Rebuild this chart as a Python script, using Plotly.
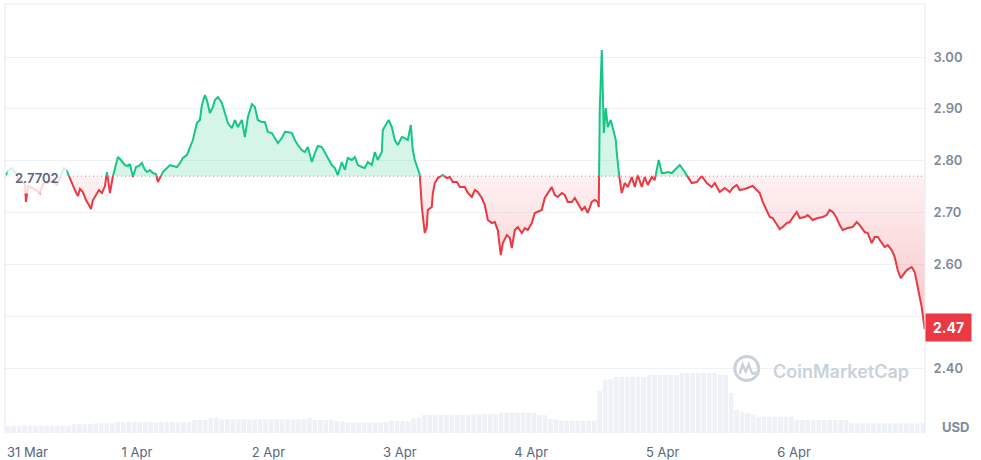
import plotly.graph_objects as go
import pandas as pd

# ---------------- data ----------------
start_date = "2025-03-31 00:00"
base_price = 2.7702

# hours since 31 Mar 00:00
hours = [0.09, 0.64, 1.19, 1.73, 2.28, 3.01, 3.56, 3.74, 4.11, 4.84, 5.57, 6.30, 6.84, 7.57, 8.49, 9.40,
         9.95, 10.31, 10.68, 11.22, 11.59, 12.14, 12.68, 13.23, 13.60, 14.14, 14.69, 15.24, 15.60, 15.97,
         16.52, 17.06, 17.61, 18.16, 18.52, 19.07, 19.62, 20.17, 20.53, 21.08, 21.81, 22.36, 22.72, 23.27,
         23.82, 24.36, 24.91, 25.46, 25.83, 26.37, 26.92, 27.47, 27.83, 28.38, 28.75, 29.48, 30.02, 30.57,
         31.30, 31.85, 32.40, 33.13, 33.67, 34.22, 34.95, 35.50, 35.86, 36.41, 36.78, 37.32, 37.87, 38.24,
         38.78, 39.51, 40.06, 40.61, 41.34, 41.89, 42.43, 43.16, 43.71, 44.26, 44.99, 45.53, 46.08, 46.81,
         47.36, 47.91, 48.64, 49.18, 49.73, 50.46, 51.01, 51.56, 52.29, 52.84, 53.38, 54.11, 54.66, 55.21,
         55.94, 56.49, 57.03, 57.76, 58.31, 58.86, 59.59, 60.14, 60.68, 61.41, 61.96, 62.51, 63.24, 63.79,
         64.33, 65.06, 65.61, 66.16, 66.89, 67.44, 67.98, 68.71, 68.90, 69.63, 69.99, 70.54, 71.09, 71.64,
         72.37, 72.91, 73.46, 74.01, 74.37, 74.74, 75.29, 75.65, 76.02, 76.56, 76.93, 77.11, 77.84, 78.03,
         78.39, 78.94, 79.85, 80.58, 81.13, 81.68, 82.41, 82.96, 83.87, 84.42, 85.15, 85.70, 86.24, 86.97,
         87.52, 88.07, 88.80, 89.35, 89.89, 90.44, 90.81, 91.54, 92.09, 92.45, 93.00, 93.55, 94.28, 94.82,
         95.37, 96.10, 96.65, 97.20, 97.93, 98.47, 99.02, 99.75, 100.30, 100.85, 101.58, 102.12, 102.67,
         103.40, 103.95, 104.50, 105.23, 105.77, 106.32, 107.05, 107.60, 108.15, 108.33, 108.51, 108.88,
         109.06, 109.25, 109.61, 109.98, 110.52, 110.89, 111.44, 111.62, 111.98, 112.53, 113.08, 113.63,
         114.36, 114.91, 115.45, 116.18, 116.73, 117.28, 118.01, 118.55, 119.28, 119.83, 120.38, 120.93,
         121.66, 122.20, 123.12, 124.03, 124.58, 125.31, 126.22, 127.13, 128.05, 128.96, 129.51, 130.42,
         131.33, 132.25, 132.79, 133.52, 134.07, 134.98, 135.90, 136.44, 137.17, 137.72, 138.27, 139.00,
         139.55, 140.09, 140.82, 141.37, 141.92, 142.65, 143.20, 143.74, 144.47, 145.02, 145.93, 146.48,
         147.39, 148.31, 149.22, 149.95, 150.50, 151.05, 151.78, 152.32, 152.87, 153.78, 154.70, 155.43,
         155.98, 156.89, 157.44, 158.17, 158.72, 159.26, 159.99, 160.54, 161.09, 161.82, 162.37, 162.91,
         163.46, 163.83, 164.56, 165.47, 166.02, 166.57, 167.30, 167.85]

price = [2.7723, 2.7820, 2.7858, 2.7781, 2.7665, 2.7608, 2.7531, 2.7203, 2.7511, 2.7473, 2.7434, 2.7376,
         2.7550, 2.7569, 2.7608, 2.7531, 2.7665, 2.7781, 2.7858, 2.7800, 2.7704, 2.7550, 2.7434, 2.7318,
         2.7453, 2.7395, 2.7241, 2.7145, 2.7067, 2.7241, 2.7338, 2.7434, 2.7376, 2.7511, 2.7781, 2.7376,
         2.7704, 2.7955, 2.8071, 2.8013, 2.7916, 2.7897, 2.7936, 2.7685, 2.7878, 2.7897, 2.7955, 2.7820,
         2.7781, 2.7820, 2.7762, 2.7743, 2.7588, 2.7704, 2.7781, 2.7858, 2.7916, 2.7897, 2.7878, 2.7955,
         2.8051, 2.8109, 2.8244, 2.8399, 2.8727, 2.8785, 2.9074, 2.9267, 2.9170, 2.8920, 2.9035, 2.9170,
         2.9228, 2.9112, 2.8920, 2.8727, 2.8630, 2.8785, 2.8650, 2.8785, 2.8457, 2.8842, 2.9093, 2.9035,
         2.8785, 2.8746, 2.8746, 2.8553, 2.8534, 2.8437, 2.8341, 2.8437, 2.8553, 2.8553, 2.8534, 2.8399,
         2.8302, 2.8206, 2.8167, 2.8264, 2.7974, 2.8148, 2.8283, 2.8264, 2.8167, 2.8051, 2.7916, 2.7858,
         2.7723, 2.7974, 2.7820, 2.8051, 2.8013, 2.8071, 2.7916, 2.7878, 2.7858, 2.7974, 2.7916, 2.8167,
         2.8013, 2.8167, 2.8592, 2.8727, 2.8785, 2.8650, 2.8399, 2.8302, 2.8457, 2.8437, 2.8399, 2.8688,
         2.8206, 2.8013, 2.7858, 2.7723, 2.7106, 2.6604, 2.6720, 2.7048, 2.7106, 2.7376, 2.7569, 2.7665,
         2.7723, 2.7665, 2.7685, 2.7588, 2.7588, 2.7492, 2.7492, 2.7376, 2.7299, 2.7434, 2.7395, 2.7280,
         2.7145, 2.6855, 2.6797, 2.6816, 2.6662, 2.6180, 2.6411, 2.6565, 2.6508, 2.6315, 2.6662, 2.6720,
         2.6604, 2.6700, 2.6662, 2.6797, 2.6990, 2.7009, 2.7048, 2.7280, 2.7376, 2.7492, 2.7338, 2.7299,
         2.7376, 2.7338, 2.7203, 2.7203, 2.7280, 2.7183, 2.7048, 2.7106, 2.6990, 2.7203, 2.7241, 2.7203,
         2.7106, 2.8977, 3.0135, 2.9035, 2.8534, 2.9016, 2.8650, 2.8785, 2.8630, 2.8399, 2.8148, 2.7762,
         2.7376, 2.7569, 2.7492, 2.7685, 2.7492, 2.7723, 2.7492, 2.7685, 2.7531, 2.7685, 2.7627, 2.8013,
         2.7762, 2.7762, 2.7781, 2.7762, 2.7820, 2.7916, 2.7781, 2.7685, 2.7569, 2.7588, 2.7704, 2.7569,
         2.7492, 2.7569, 2.7395, 2.7473, 2.7395, 2.7473, 2.7531, 2.7434, 2.7453, 2.7492, 2.7511, 2.7434,
         2.7376, 2.7203, 2.7048, 2.6913, 2.6894, 2.6758, 2.6681, 2.6720, 2.6797, 2.6816, 2.6894, 2.7009,
         2.6894, 2.6913, 2.6951, 2.6855, 2.6894, 2.6913, 2.6951, 2.7048, 2.7009, 2.6894, 2.6758, 2.6662,
         2.6700, 2.6720, 2.6816, 2.6758, 2.6623, 2.6604, 2.6411, 2.6527, 2.6527, 2.6411, 2.6334, 2.6373,
         2.6276, 2.6141, 2.5890, 2.5736, 2.5794, 2.5890, 2.5948, 2.5852, 2.5562, 2.5176, 2.4745]

# hourly volume (M USD), one bar per hour from 31 Mar 00:00
volume = [34, 35, 35, 36, 35, 34, 35, 36, 35, 35, 36, 37,
          43, 44, 43, 44,
          48, 49, 48, 49,
          55, 55, 56, 55, 54, 55, 56, 55, 55, 56, 55, 54, 55, 56,
          65, 66, 65,
          75, 76,
          68, 69, 68, 68, 69, 68, 67, 68, 69, 68, 68, 69, 68, 67, 68, 69,
          75,
          65, 65, 64, 65,
          58, 59,
          53, 54, 53, 53, 54, 53, 53, 54,
          60, 61, 60, 60,
          73, 74,
          90, 90, 91, 90, 90, 91, 90, 90, 91, 92, 94, 95, 95, 94,
          101, 102, 102, 101, 102, 101, 100,
          90, 88,
          70, 68,
          62, 61, 62, 61, 62, 61, 62,
          210,
          265, 268,
          280, 281, 280, 282, 281, 280,
          290, 291, 290, 291, 290, 291,
          300, 300, 301, 300, 300, 301, 300,
          292, 290,
          200,
          115, 105, 98, 92,
          82, 82, 81, 82, 82, 81, 82,
          66, 65, 65, 66, 65, 65, 66, 65, 64, 65,
          49, 48, 49, 48, 48, 49, 48, 48, 49, 48, 48, 47, 48, 49]

day_ticks = ["2025-04-01", "2025-04-02", "2025-04-03", "2025-04-04", "2025-04-05", "2025-04-06"]
day_labels = ["1 Apr", "2 Apr", "3 Apr", "4 Apr", "5 Apr", "6 Apr"]
first_label = "31 Mar"
y_ticks = [2.40, 2.50, 2.60, 2.70, 2.80, 2.90, 3.00]
y_labels = ["2.40", "", "2.60", "2.70", "2.80", "2.90", "3.00"]

# ---------------- styling ----------------
GREEN = "#16c784"
RED = "#ea3943"
FONT = "Inter"
t0 = pd.Timestamp(start_date)


def ts(h):
    return t0 + pd.Timedelta(hours=h)


# insert baseline crossings so colours switch exactly at the baseline
seg_h, seg_p = [], []
for i, (h, p) in enumerate(zip(hours, price)):
    if i > 0:
        hp, pp = hours[i - 1], price[i - 1]
        if (pp - base_price) * (p - base_price) < 0:
            f = (base_price - pp) / (p - pp)
            seg_h.append(hp + f * (h - hp))
            seg_p.append(base_price)
    seg_h.append(h)
    seg_p.append(p)

xs = [ts(h) for h in seg_h]
eps = 1e-9
green_line = [p if p >= base_price - eps else None for p in seg_p]
red_line = [p if p <= base_price + eps else None for p in seg_p]
green_fill = [max(p, base_price) for p in seg_p]
red_fill = [min(p, base_price) for p in seg_p]
base_arr = [base_price] * len(xs)

fig = go.Figure()

# volume bars (own hidden axis)
fig.add_trace(go.Bar(
    x=[ts(i + 0.5) for i in range(len(volume))], y=volume, yaxis="y2",
    marker=dict(color="#eef1f5", line=dict(width=0)), hoverinfo="skip", showlegend=False))

# fills
fig.add_trace(go.Scatter(x=xs, y=base_arr, mode="lines", line=dict(width=0), hoverinfo="skip",
                         showlegend=False))
fig.add_trace(go.Scatter(x=xs, y=green_fill, mode="lines", line=dict(width=0), fill="tonexty",
                         fillcolor="rgba(22,199,132,0.18)", hoverinfo="skip", showlegend=False))
fig.add_trace(go.Scatter(x=xs, y=base_arr, mode="lines", line=dict(width=0), hoverinfo="skip",
                         showlegend=False))
fig.add_trace(go.Scatter(x=xs, y=red_fill, mode="lines", line=dict(width=0), fill="tonexty",
                         fillgradient=dict(type="vertical", start=min(price), stop=base_price,
                                           colorscale=[[0, "rgba(234,57,67,0.30)"],
                                                       [1, "rgba(234,57,67,0.07)"]]),
                         hoverinfo="skip", showlegend=False))

# dotted baseline
x_lo, x_hi = ts(-0.09), ts(167.9)
fig.add_trace(go.Scatter(x=[x_lo, x_hi], y=[base_price, base_price], mode="lines",
                         line=dict(color="#8f97aa", width=1, dash="1px,3px"), hoverinfo="skip",
                         showlegend=False))

# price lines
fig.add_trace(go.Scatter(x=xs, y=green_line, mode="lines", line=dict(color=GREEN, width=2),
                         connectgaps=False, showlegend=False))
fig.add_trace(go.Scatter(x=xs, y=red_line, mode="lines", line=dict(color=RED, width=2),
                         connectgaps=False, showlegend=False))

fig.update_layout(
    width=981, height=460,
    margin=dict(l=5, r=56, t=4, b=27),
    paper_bgcolor="white", plot_bgcolor="white",
    bargap=0.15,
    font=dict(family=FONT),
    xaxis=dict(type="date", range=[x_lo, x_hi], showgrid=False, zeroline=False, showline=False,
               automargin=False,
               tickvals=day_ticks, ticktext=day_labels, ticks="outside", ticklen=7,
               tickcolor="rgba(0,0,0,0)", tickfont=dict(family=FONT, size=13, color="#58667e")),
    yaxis=dict(side="right", range=[2.2746, 3.1023], tickvals=y_ticks, ticktext=y_labels,
               automargin=False,
               showgrid=True, gridcolor="#eff2f5", gridwidth=1, zeroline=False, showline=False,
               ticks="outside", ticklen=5, tickcolor="rgba(0,0,0,0)",
               tickfont=dict(family=FONT, size=13, color="#808a9d", weight=600)),
    yaxis2=dict(overlaying="y", range=[0, 2145], visible=False, automargin=False),
    shapes=[
        dict(type="line", xref="paper", yref="paper", x0=0, x1=0, y0=0, y1=1,
             line=dict(color="#e6e9ee", width=1)),
        dict(type="line", xref="paper", yref="paper", x0=0, x1=1, y0=1, y1=1,
             line=dict(color="#e6e9ee", width=1)),
        dict(type="line", xref="paper", yref="paper", x0=1, x1=1, y0=0, y1=1,
             line=dict(color="#e6e9ee", width=1)),
        # watermark logo
        dict(type="circle", xref="paper", yref="paper", xsizemode="pixel", ysizemode="pixel",
             xanchor=0.8062, yanchor=0.1503, x0=-12, x1=12, y0=-12, y1=12,
             line=dict(color="#c9d1dc", width=3)),
        dict(type="path", xref="paper", yref="paper", xsizemode="pixel", ysizemode="pixel",
             xanchor=0.8062, yanchor=0.1503,
             path="M -7,-5 L -4,4 L -1,-3 L 2,4 L 5,-4 Q 7,-7 9,-3",
             line=dict(color="#c9d1dc", width=2.5)),
    ],
    annotations=[
        dict(text=f"{base_price:.4f}", xref="paper", yref="y", x=0, y=base_price, xanchor="left",
             yanchor="middle", xshift=2, yshift=-2, showarrow=False, bgcolor="rgba(255,255,255,0.8)",
             borderpad=7, font=dict(family=FONT, size=13, color="#58667e", weight=600)),
        dict(text=f"{price[-1]:.2f}", xref="paper", yref="y", x=1, y=price[-1], xanchor="left",
             yanchor="middle", yshift=2, showarrow=False, bgcolor=RED, width=41, height=23, borderpad=2,
             font=dict(family=FONT, size=14, color="white", weight=700)),
        dict(text="USD", xref="paper", yref="paper", x=1, y=0, xanchor="left", yanchor="middle",
             xshift=15, yshift=6, showarrow=False,
             font=dict(family=FONT, size=13, color="#808a9d", weight=700)),
        dict(text=first_label, xref="paper", yref="paper", x=0, y=0, xanchor="left",
             yanchor="middle", yshift=-19, showarrow=False,
             font=dict(family=FONT, size=13, color="#58667e")),
        dict(text="CoinMarketCap", xref="paper", yref="paper", x=0.8326, y=0.1429, xanchor="left",
             yanchor="middle", showarrow=False,
             font=dict(family=FONT, size=18, color="#c9d1dc", weight=600)),
    ],
)

fig.write_html("out.html", config={"displayModeBar": False},
               post_script="document.body.style.margin='0px';document.body.style.overflow='hidden';")
